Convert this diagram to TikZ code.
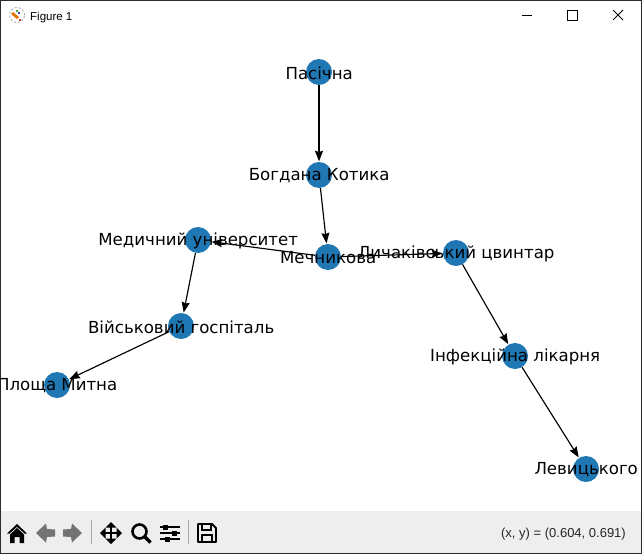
\documentclass[tikz,border=0pt]{standalone}
\usepackage{fontspec}
\setmainfont{DejaVu Sans}
\newfontfamily\uifont{Liberation Sans}
\usetikzlibrary{arrows.meta}
\definecolor{nodeblue}{HTML}{1F77B4}
\definecolor{barbg}{HTML}{EEEEEE}
\definecolor{framecol}{HTML}{2B2B2B}
\tikzset{
  station/.style={circle,fill=nodeblue,draw=none,minimum size=26pt,inner sep=0pt},
  stname/.style={font=\fontsize{16.6pt}{18pt}\selectfont,inner sep=0pt,text=black,xshift=0.2pt,yshift=-1pt},
  link/.style={draw=black,line width=1.15pt,-{Stealth[length=10.5pt,width=8pt,inset=1.2pt]},shorten >=0.5pt},
  uitext/.style={font=\uifont\fontsize{13pt}{15pt}\selectfont,inner sep=0pt,anchor=base west,text=black},
  tool/.style={fill=black,draw=none},
  sep/.style={draw=gray!70,line width=1pt},
  ghost/.style={fill=black!55,draw=none}
}
\begin{document}
\begin{tikzpicture}[x=1pt,y=-1pt]
\useasboundingbox (0,0) rectangle (642,554);
\fill[white] (0,0) rectangle (642,554);
\fill[barbg] (0,511) rectangle (642,554);
\draw[framecol,line width=1.2pt] (0.6,0.6) rectangle (641.4,553.4);

% title bar
\fill[orange!90!black] (13,12) -- (19,17) -- (17,19) -- (11,14) -- cycle;
\fill[green!50!black] (17,11) circle (1.2pt);
\fill[blue!70!black] (19,13) circle (1.2pt);
\fill[red!70!black] (20,20) circle (1.2pt);
\draw[gray,line width=0.6pt,dash pattern=on 2pt off 2pt] (17,15) circle (7.5pt);
\node[uitext,font=\uifont\fontsize{11.5pt}{14pt}\selectfont] (title) at (30,20) {Figure 1};
\draw[black,line width=1pt] (522,15) -- (532,15);
\draw[black,line width=1pt] (567.5,10.5) rectangle (577,20);
\draw[black,line width=0.8pt] (613,10) -- (623,20) (623,10) -- (613,20);

% stations
\node[station] (pas) at (319,72) {};
\node[station] (bog) at (319,175) {};
\node[station] (mec) at (328,257) {};
\node[station] (lyc) at (456,253) {};
\node[station] (med) at (198,240) {};
\node[station] (vij) at (181,326) {};
\node[station] (plo) at (57,385) {};
\node[station] (inf) at (515,356) {};
\node[station] (lev) at (586,469) {};

% links
\draw[link] (pas) -- (bog);
\draw[link] (bog) -- (mec);
\draw[link] (mec) -- (med);
\draw[link] (mec) -- (lyc);
\draw[link] (med) -- (vij);
\draw[link] (vij) -- (plo);
\draw[link] (lyc) -- (inf);
\draw[link] (inf) -- (lev);

% names
\node[stname] (tpas) at (pas) {Пасічна};
\node[stname] (tbog) at (bog) {Богдана Котика};
\node[stname] (tmec) at (mec) {Мечникова};
\node[stname] (tlyc) at (lyc) {Личаківський цвинтар};
\node[stname] (tmed) at (med) {Медичний університет};
\node[stname] (tvij) at (vij) {Військовий госпіталь};
\node[stname] (tplo) at (plo) {Площа Митна};
\node[stname] (tinf) at (inf) {Інфекційна лікарня};
\node[stname] (tlev) at (lev) {Левицького};

% toolbar: home
\fill[tool] (17,524) -- (27,533.5) -- (24.5,533.5) -- (17,526.8) -- (9.5,533.5) -- (7,533.5) -- cycle;
\fill[tool] (17,528) -- (24,534.5) -- (24,543) -- (19.5,543) -- (19.5,537) -- (14.5,537) -- (14.5,543) -- (10,543) -- (10,534.5) -- cycle;
% back / forward
\fill[ghost] (36,533) -- (46,523.5) -- (47,529) -- (55,529.5) -- (55,536.5) -- (47,537) -- (46,542.5) -- cycle;
\fill[ghost] (82,533) -- (72,523.5) -- (71,529) -- (63,529.5) -- (63,536.5) -- (71,537) -- (72,542.5) -- cycle;
\draw[sep] (91.5,520) -- (91.5,544);
% move
\draw[black,line width=2.6pt] (104,533) -- (118,533) (111,526) -- (111,540);
\fill[tool] (100,533) -- (105.5,527.5) -- (105.5,538.5) -- cycle;
\fill[tool] (122,533) -- (116.5,527.5) -- (116.5,538.5) -- cycle;
\fill[tool] (111,522) -- (105.5,527.5) -- (116.5,527.5) -- cycle;
\fill[tool] (111,544) -- (105.5,538.5) -- (116.5,538.5) -- cycle;
% magnifier
\draw[black,line width=2.6pt] (139.5,531.5) circle (7pt);
\draw[black,line width=3.2pt] (144.5,536.5) -- (150.5,542.5);
% sliders
\draw[black,line width=1.2pt] (160,527) -- (180,527) (160,533) -- (180,533) (160,539) -- (180,539);
\fill[tool] (163,524.5) rectangle (168,529.5);
\fill[tool] (172,530.5) rectangle (177,535.5);
\fill[tool] (165,536.5) rectangle (170,541.5);
\draw[sep] (188.5,520) -- (188.5,544);
% save
\draw[black,line width=1.8pt,line join=round] (198,524) -- (212,524) -- (216,528) -- (216,542) -- (198,542) -- cycle;
\draw[black,line width=1.5pt] (202,524) rectangle (211,530) (202,542) rectangle (212,535);

\node[uitext,anchor=base east,text=black!85] (coords) at (626,537.5) {(x, y) = (0.604, 0.691)};
\end{tikzpicture}
\end{document}
